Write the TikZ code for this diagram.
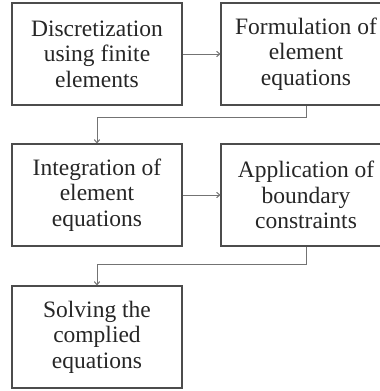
\documentclass[tikz,border=0pt]{standalone}
\usepackage{fontspec}
\setmainfont{Liberation Serif}
\usetikzlibrary{arrows.meta}
\begin{document}
\begin{tikzpicture}[x=1pt,y=-1pt,
  stepbox/.style={draw=black!70, line width=1.4pt, minimum width=170pt, minimum height=102pt,
    inner sep=0pt, align=center, font=\fontsize{23.5}{25.5}\selectfont, text=black!85},
  conn/.style={draw=black!55, line width=1pt, -{To[length=4pt,width=6pt]}}]
\useasboundingbox (0,0) rectangle (380,391);
\clip (0,0) rectangle (380,391);
\node[stepbox] (b1) at (97,54) {Discretization\\using finite\\elements};
\node[stepbox] (b2) at (306,54) {Formulation of\\element\\equations};
\node[stepbox] (b3) at (97,195) {Integration of\\element\\equations};
\node[stepbox] (b4) at (306,195) {Application of\\boundary\\constraints};
\node[stepbox] (b5) at (97,337) {Solving the\\complied\\equations};
\draw[conn] (b1.east) -- (b2.west);
\draw[conn] (b3.east) -- (b4.west);
\draw[conn] (b2.south) -- ++(0,12) -| (b3.north);
\draw[conn] (b4.south) -- ++(0,18) -| (b5.north);
\end{tikzpicture}
\end{document}
